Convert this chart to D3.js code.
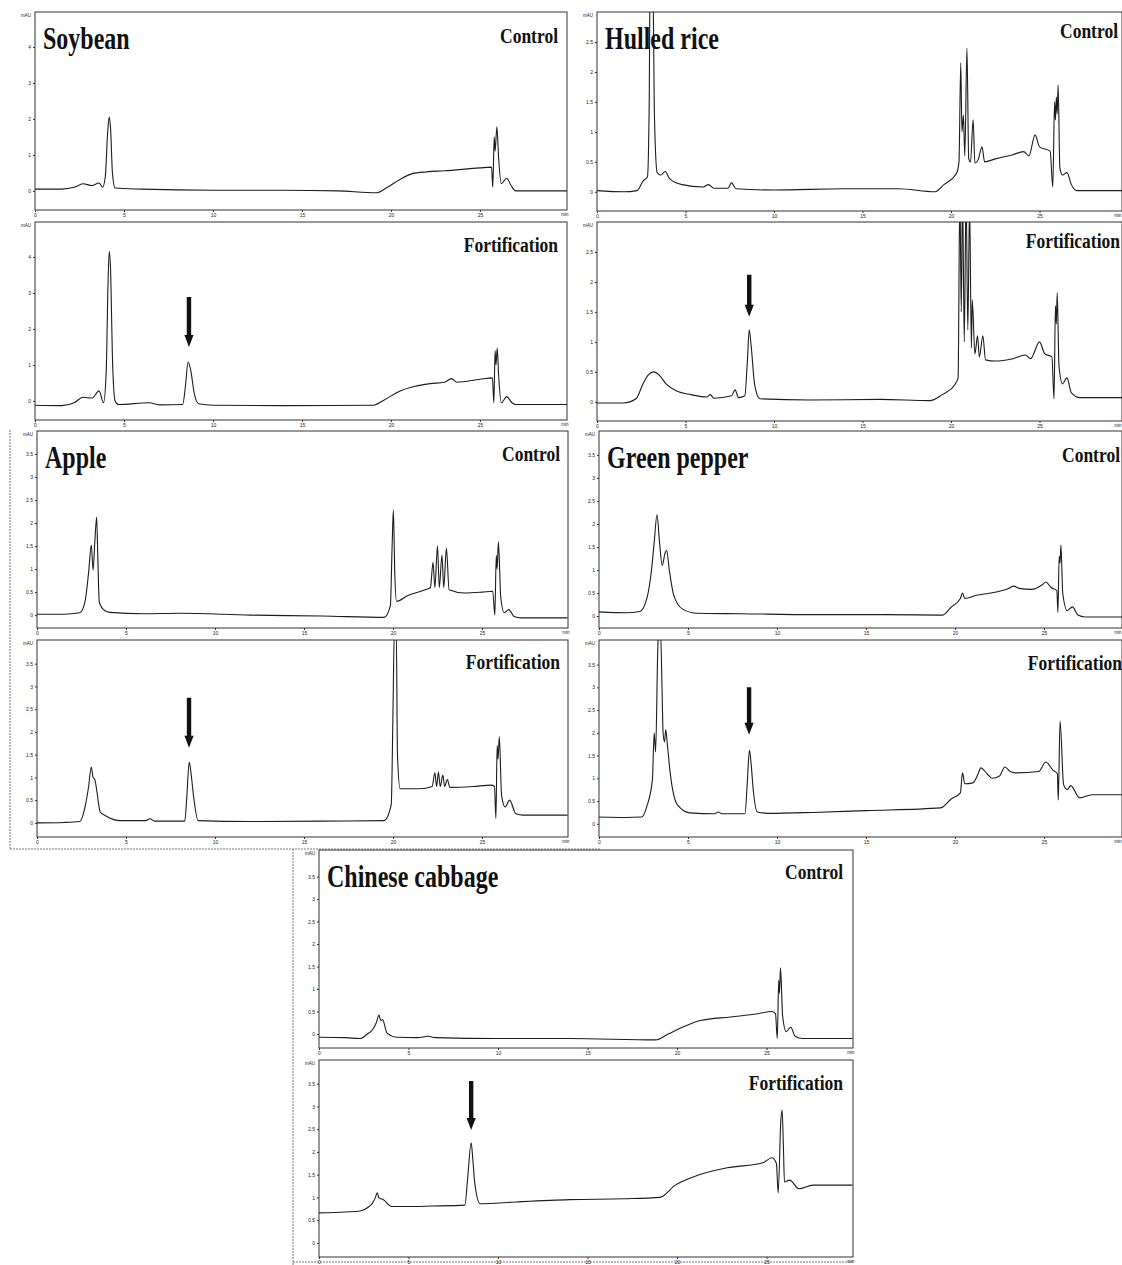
<!DOCTYPE html>
<html>
<head>
<meta charset="utf-8">
<script src="https://cdn.jsdelivr.net/npm/d3@7"></script>
<style>
body { margin: 0; background: #fff; }
svg { display: block; }
.tick text { font-family: "Liberation Sans", Arial, sans-serif; font-size: 5px; fill: #222; }
.tick line { stroke: #333; }
</style>
</head>
<body>
<script>
// ---- data: [retention time (min), absorbance (mAU)] ----
var xTicks = [0, 5, 10, 15, 20, 25];
var yTicksSoy = [0, 1, 2, 3, 4];
var yTicksRice = [0, 0.5, 1, 1.5, 2, 2.5];
var yTicksHalf = [0, 0.5, 1, 1.5, 2, 2.5, 3, 3.5];

var samples = ["Soybean", "Hulled rice", "Apple", "Green pepper", "Chinese cabbage"];
var treatments = ["Control", "Fortification"];

var soyControl = [[0,0.05],[1.5,0.05],[2.2,0.1],[2.7,0.2],[3.2,0.15],[3.6,0.22],[3.8,0.1],[3.95,0.4],[4.08,1.6],[4.17,2.05],[4.25,1.7],[4.35,0.5],[4.5,0.08],[6,0.05],[10,0.02],[14,0.02],[17,0.0],[19.2,-0.05],[19.8,0.1],[20.5,0.32],[21.2,0.48],[22,0.53],[23,0.56],[25,0.64],[25.65,0.66],[25.72,0.1],[25.8,1.5],[25.85,1.1],[25.95,1.78],[26.05,0.9],[26.2,0.2],[26.5,0.35],[26.75,0.15],[27,0.0],[29.9,0.0]];

var soyFort = [[0,-0.12],[1.5,-0.13],[2.2,-0.05],[2.7,0.1],[3.2,0.08],[3.6,0.28],[3.85,-0.05],[4.0,0.8],[4.1,3.2],[4.17,4.15],[4.25,3.6],[4.35,1.2],[4.5,0.0],[4.7,-0.1],[6.4,-0.05],[7,-0.11],[8.3,-0.1],[8.45,0.4],[8.6,1.08],[8.75,0.85],[8.95,0.2],[9.2,-0.08],[10,-0.12],[14,-0.13],[19,-0.12],[19.6,0.02],[20.4,0.25],[21.3,0.4],[22.2,0.48],[23,0.52],[23.4,0.62],[23.7,0.52],[25,0.6],[25.7,0.64],[25.78,-0.05],[25.85,1.4],[25.9,1.0],[25.97,1.47],[26.05,0.7],[26.2,-0.05],[26.5,0.12],[26.8,-0.05],[27,-0.1],[29.9,-0.1]];

var riceControl = [[0,0.02],[1.5,0.0],[2.26,0.02],[2.6,0.18],[2.85,0.25],[2.95,1.5],[3.0,3.6],[3.15,3.6],[3.25,1.2],[3.4,0.32],[3.6,0.28],[3.85,0.34],[4.1,0.22],[4.8,0.12],[6.0,0.08],[6.3,0.12],[6.6,0.06],[7.4,0.06],[7.6,0.15],[7.85,0.05],[10,0.03],[14,0.05],[17,0.05],[19.1,0.0],[19.6,0.12],[20.3,0.3],[20.45,0.5],[20.55,2.15],[20.62,1.0],[20.7,1.28],[20.78,0.6],[20.9,2.4],[21.0,0.55],[21.1,0.5],[21.25,1.2],[21.35,0.48],[21.55,0.55],[21.75,0.75],[21.9,0.5],[22.5,0.55],[23.5,0.62],[24.1,0.67],[24.4,0.6],[24.75,0.95],[25.0,0.75],[25.6,0.68],[25.75,0.08],[25.85,1.5],[25.9,1.2],[25.95,1.58],[26.0,1.3],[26.05,1.78],[26.15,0.4],[26.3,0.28],[26.55,0.32],[26.8,0.12],[27.1,0.02],[29.7,0.02]];

var riceFort = [[0,-0.02],[1.5,-0.02],[2.2,0.05],[2.6,0.3],[2.9,0.45],[3.2,0.5],[3.5,0.45],[3.9,0.3],[4.5,0.18],[5.3,0.12],[6.2,0.08],[6.4,0.12],[6.6,0.06],[7.6,0.1],[7.8,0.2],[8.0,0.07],[8.35,0.1],[8.5,0.7],[8.6,1.2],[8.72,0.9],[8.9,0.3],[9.2,0.05],[12,0.03],[16,0.04],[18.8,0.02],[19.5,0.12],[20.2,0.28],[20.4,0.4],[20.5,3.5],[20.58,1.5],[20.65,3.5],[20.75,1.0],[20.85,3.5],[20.95,1.2],[21.05,3.3],[21.15,0.9],[21.2,1.7],[21.35,0.8],[21.5,1.1],[21.6,0.75],[21.8,1.1],[21.95,0.7],[22.5,0.68],[23.5,0.72],[24.2,0.78],[24.5,0.72],[25.0,1.0],[25.3,0.8],[25.7,0.75],[25.82,0.05],[25.9,1.6],[25.95,1.3],[26.0,1.82],[26.1,0.6],[26.3,0.3],[26.55,0.4],[26.8,0.15],[27.3,0.07],[29.7,0.07]];

var appleControl = [[0,0.02],[1.5,0.02],[2.4,0.05],[2.7,0.3],[2.9,0.93],[3.05,1.52],[3.15,0.98],[3.25,1.6],[3.35,2.13],[3.42,1.2],[3.5,0.28],[3.8,0.1],[4.1,0.06],[6,0.03],[8,0.04],[12,0.0],[16,-0.02],[19.5,-0.05],[19.85,0.2],[19.95,1.5],[20.02,2.28],[20.1,0.9],[20.2,0.3],[20.8,0.42],[21.8,0.55],[22.1,0.6],[22.25,1.15],[22.35,0.6],[22.5,1.5],[22.6,0.6],[22.75,1.3],[22.85,0.6],[23.0,1.45],[23.15,0.55],[24,0.48],[25,0.5],[25.6,0.52],[25.72,0.0],[25.8,1.3],[25.85,1.0],[25.92,1.6],[26.05,0.4],[26.25,0.05],[26.5,0.12],[26.8,-0.03],[27.2,-0.06],[29.8,-0.06]];

var appleFort = [[0,0],[1.5,0.01],[2.4,0.03],[2.7,0.35],[2.9,0.8],[3.05,1.23],[3.15,1.0],[3.25,0.95],[3.35,0.73],[3.55,0.24],[3.8,0.17],[4.7,0.05],[6.1,0.05],[6.35,0.09],[6.6,0.04],[8.3,0.04],[8.42,0.6],[8.55,1.34],[8.65,1.1],[8.8,0.57],[9.05,0.05],[12,0.03],[16,0.04],[19.5,0.05],[19.9,0.4],[20.0,2.5],[20.08,4.3],[20.18,4.3],[20.25,1.5],[20.4,0.75],[21.5,0.75],[22.2,0.8],[22.35,1.1],[22.45,0.8],[22.55,1.12],[22.65,0.8],[22.8,1.05],[22.9,0.8],[23.05,0.95],[23.2,0.78],[24.5,0.8],[25.5,0.83],[25.7,0.8],[25.78,0.1],[25.85,1.7],[25.9,1.4],[25.97,1.9],[26.1,0.6],[26.3,0.35],[26.55,0.5],[26.9,0.2],[27.3,0.17],[29.8,0.17]];

var pepperControl = [[0,0.09],[1.5,0.07],[2.3,0.1],[2.7,0.4],[2.95,1.0],[3.1,1.6],[3.26,2.2],[3.4,1.6],[3.55,1.1],[3.7,1.35],[3.8,1.43],[3.95,1.0],[4.2,0.45],[4.7,0.15],[5.5,0.06],[8,0.05],[12,0.03],[16,0.03],[19.3,0.02],[19.8,0.2],[20.3,0.38],[20.42,0.5],[20.55,0.38],[21.2,0.45],[22,0.5],[22.6,0.55],[23.0,0.6],[23.3,0.65],[23.6,0.6],[24.3,0.58],[24.9,0.68],[25.1,0.74],[25.4,0.62],[25.72,0.55],[25.78,0.08],[25.85,1.3],[25.9,1.15],[25.95,1.54],[26.05,0.5],[26.3,0.12],[26.6,0.2],[26.9,0.02],[27.3,-0.02],[29.6,-0.02]];

var pepperFort = [[0,0.15],[1.5,0.14],[2.4,0.15],[2.7,0.4],[3.0,0.97],[3.1,2.0],[3.18,1.58],[3.3,3.8],[3.35,4.3],[3.45,4.3],[3.55,2.8],[3.6,2.0],[3.68,1.8],[3.75,2.07],[3.85,1.7],[4.0,1.12],[4.4,0.42],[5.1,0.24],[6.5,0.22],[6.7,0.26],[6.9,0.22],[8.2,0.22],[8.33,0.9],[8.45,1.62],[8.55,1.3],[8.65,0.81],[8.9,0.26],[9.5,0.23],[12,0.25],[15,0.29],[19.2,0.35],[19.8,0.55],[20.3,0.68],[20.42,1.12],[20.55,0.88],[21.0,0.9],[21.3,1.1],[21.45,1.23],[21.8,1.1],[22.1,1.0],[22.5,1.05],[22.8,1.25],[23.1,1.15],[23.4,1.12],[24.7,1.15],[25.1,1.36],[25.5,1.18],[25.75,1.1],[25.8,0.52],[25.9,2.26],[26.1,0.86],[26.3,0.75],[26.5,0.84],[27.0,0.57],[27.7,0.64],[29.5,0.64]];

var cabbageControl = [[0,-0.07],[1.5,-0.08],[2.3,-0.1],[2.7,0.0],[3.0,0.1],[3.2,0.25],[3.35,0.42],[3.45,0.3],[3.55,0.32],[3.8,0.02],[4.35,-0.07],[5.5,-0.08],[6.1,-0.05],[6.5,-0.08],[10,-0.1],[14,-0.1],[18.8,-0.13],[19.5,0.0],[20.3,0.15],[21.3,0.3],[23,0.38],[24.5,0.45],[25.3,0.5],[25.5,0.45],[25.6,-0.1],[25.68,1.2],[25.72,0.9],[25.78,1.47],[25.9,0.4],[26.1,0.05],[26.35,0.15],[26.6,-0.05],[27,-0.1],[29.8,-0.1]];

var cabbageFort = [[0,0.66],[1.5,0.68],[2.3,0.7],[2.8,0.8],[3.0,0.88],[3.15,1.0],[3.25,1.1],[3.35,0.99],[3.6,0.95],[4.05,0.8],[5,0.8],[6.3,0.81],[8.15,0.83],[8.3,1.4],[8.5,2.2],[8.6,1.8],[8.7,1.32],[9.0,0.86],[11,0.9],[14,0.95],[17,0.97],[19.05,1.0],[19.9,1.27],[20.9,1.45],[22.8,1.65],[24.8,1.76],[25.3,1.87],[25.55,1.75],[25.65,1.1],[25.8,2.7],[25.87,2.92],[25.95,2.0],[26.0,1.34],[26.3,1.38],[26.8,1.19],[27.6,1.27],[29.8,1.27]];

// arrows marking the fortified peak: [time, shaft top, tip] in data units
var arrowSoy = [8.65, 2.89, 1.5];
var arrowRice = [8.6, 2.12, 1.42];
var arrowApple = [8.54, 2.75, 1.65];
var arrowPepper = [8.43, 3.0, 1.96];
var arrowCabbage = [8.5, 3.56, 2.48];

// ---- layout (pixels) ----
var panels = [
  {s:0, t:0, data:soyControl,     yTicks:yTicksSoy,  arrow:null,         left:35,  right:567,  top:12,   bottom:210,  xMax:29.89, yDom:[-0.53,4.97], tagX:558,  tagY:43},
  {s:0, t:1, data:soyFort,        yTicks:yTicksSoy,  arrow:arrowSoy,     left:35,  right:567,  top:222,  bottom:420,  xMax:29.89, yDom:[-0.53,4.97], tagX:558,  tagY:252},
  {s:1, t:0, data:riceControl,    yTicks:yTicksRice, arrow:null,         left:597, right:1122, top:12,   bottom:211,  xMax:29.66, yDom:[-0.32,3.0],  tagX:1118, tagY:38},
  {s:1, t:1, data:riceFort,       yTicks:yTicksRice, arrow:arrowRice,    left:597, right:1122, top:222,  bottom:421,  xMax:29.66, yDom:[-0.32,3.0],  tagX:1120, tagY:248},
  {s:2, t:0, data:appleControl,   yTicks:yTicksHalf, arrow:null,         left:37,  right:568,  top:431,  bottom:628,  xMax:29.83, yDom:[-0.28,4.0],  tagX:560,  tagY:461},
  {s:2, t:1, data:appleFort,      yTicks:yTicksHalf, arrow:arrowApple,   left:37,  right:568,  top:640,  bottom:837,  xMax:29.83, yDom:[-0.31,4.02], tagX:560,  tagY:669},
  {s:3, t:0, data:pepperControl,  yTicks:yTicksHalf, arrow:null,         left:599, right:1122, top:431,  bottom:628,  xMax:29.38, yDom:[-0.26,4.02], tagX:1120, tagY:462},
  {s:3, t:1, data:pepperFort,     yTicks:yTicksHalf, arrow:arrowPepper,  left:599, right:1122, top:640,  bottom:837,  xMax:29.38, yDom:[-0.29,4.04], tagX:1122, tagY:670},
  {s:4, t:0, data:cabbageControl, yTicks:yTicksHalf, arrow:null,         left:319, right:853,  top:850,  bottom:1048, xMax:29.83, yDom:[-0.31,4.09], tagX:843,  tagY:879},
  {s:4, t:1, data:cabbageFort,    yTicks:yTicksHalf, arrow:arrowCabbage, left:319, right:853,  top:1060, bottom:1257, xMax:29.83, yDom:[-0.31,4.02], tagX:843,  tagY:1090}
];

var sheetLines = [[10,430,10,849],[10,849,600,849],[293,849,293,1265],[293,1262,853,1262]];

var svg = d3.select("body").append("svg")
    .attr("width", 1122)
    .attr("height", 1265);

svg.selectAll("line.sheet")
    .data(sheetLines)
    .enter().append("line")
    .attr("class", "sheet")
    .attr("x1", function (d) { return d[0]; })
    .attr("y1", function (d) { return d[1]; })
    .attr("x2", function (d) { return d[2]; })
    .attr("y2", function (d) { return d[3]; })
    .attr("stroke", "#555")
    .attr("stroke-width", 0.8)
    .attr("stroke-dasharray", "2,1");

function arrowPath(x, y0, y1) {
    var hw = 2.2, headW = 4.6, headH = 12;
    return "M" + (x - hw) + "," + y0 + "L" + (x + hw) + "," + y0 +
        "L" + (x + hw) + "," + (y1 - headH) + "L" + (x + headW) + "," + (y1 - headH) +
        "L" + x + "," + y1 + "L" + (x - headW) + "," + (y1 - headH) +
        "L" + (x - hw) + "," + (y1 - headH) + "Z";
}

panels.forEach(function (p, i) {
    var x = d3.scaleLinear().domain([0, p.xMax]).range([p.left, p.right]);
    var y = d3.scaleLinear().domain(p.yDom).range([p.bottom, p.top]);
    var g = svg.append("g");

    g.append("clipPath").attr("id", "clip" + i)
        .append("rect")
        .attr("x", p.left).attr("y", p.top)
        .attr("width", p.right - p.left).attr("height", p.bottom - p.top);

    // frame
    g.append("rect")
        .attr("x", p.left).attr("y", p.top)
        .attr("width", p.right - p.left).attr("height", p.bottom - p.top)
        .attr("fill", "none")
        .attr("stroke", "#333")
        .attr("stroke-width", 1);

    var yAxis = d3.axisLeft(y).tickValues(p.yTicks).tickSize(2).tickPadding(2)
        .tickFormat(d3.format("~g"));
    g.append("g")
        .attr("transform", "translate(" + p.left + ",0)")
        .call(yAxis)
        .call(function (a) { a.select(".domain").remove(); });

    var xAxis = d3.axisBottom(x).tickValues(xTicks).tickSize(2).tickPadding(1);
    g.append("g")
        .attr("transform", "translate(0," + p.bottom + ")")
        .call(xAxis)
        .call(function (a) { a.select(".domain").remove(); });

    g.append("text")
        .attr("x", p.left - 4).attr("y", p.top + 5)
        .attr("text-anchor", "end")
        .attr("font-family", "Liberation Sans, Arial, sans-serif")
        .attr("font-size", 4.5)
        .attr("fill", "#222")
        .text("mAU");

    g.append("text")
        .attr("x", Math.min(p.right - 2, 1118)).attr("y", p.bottom + 6)
        .attr("text-anchor", "middle")
        .attr("font-family", "Liberation Sans, Arial, sans-serif")
        .attr("font-size", 4.5)
        .attr("fill", "#222")
        .text("min");

    var line = d3.line()
        .curve(d3.curveMonotoneX)
        .x(function (d) { return x(d[0]); })
        .y(function (d) { return y(d[1]); });

    g.append("path")
        .datum(p.data)
        .attr("clip-path", "url(#clip" + i + ")")
        .attr("d", line)
        .attr("fill", "none")
        .attr("stroke", "#1c1c1c")
        .attr("stroke-width", 1.1)
        .attr("stroke-linejoin", "round");

    if (p.t === 0) {
        g.append("text")
            .attr("transform", "translate(" + (p.left + 8) + "," + (p.top + 37) + ") scale(1,1.32)")
            .attr("font-family", "Liberation Serif, Times New Roman, serif")
            .attr("font-weight", "bold")
            .attr("font-size", 24)
            .attr("fill", "#111")
            .text(samples[p.s]);
    }

    g.append("text")
        .attr("transform", "translate(" + p.tagX + "," + p.tagY + ") scale(1,1.25)")
        .attr("text-anchor", "end")
        .attr("font-family", "Liberation Serif, Times New Roman, serif")
        .attr("font-weight", "bold")
        .attr("font-size", 17.5)
        .attr("fill", "#111")
        .text(treatments[p.t]);

    if (p.arrow) {
        g.append("path")
            .attr("d", arrowPath(x(p.arrow[0]), y(p.arrow[1]), y(p.arrow[2])))
            .attr("fill", "#111");
    }
});
</script>
</body>
</html>
